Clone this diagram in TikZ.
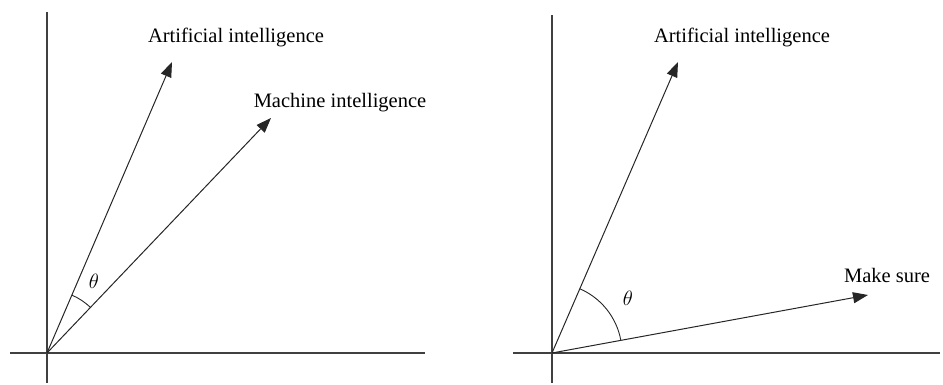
\documentclass[tikz,border=0pt]{standalone}
\usepackage{fontspec}
\setmainfont{Liberation Serif}
\usetikzlibrary{arrows.meta,angles}

\tikzset{
  axis/.style={black!75, line width=1.1pt},
  vec/.style={black!85, line width=1pt, -{Triangle[length=15pt,width=11pt]}},
  vlabel/.style={font=\fontsize{20.5}{24}\selectfont, inner sep=0pt},
}

\begin{document}
\begin{tikzpicture}[x=1pt, y=1pt]
  \useasboundingbox (0,0) rectangle (943,385);

  % 左图：坐标轴
  \coordinate (oa) at (47,32);
  \draw[axis] (47,2) -- (47,373);
  \draw[axis] (10,32) -- (425,32);

  % 左图：两个向量
  \coordinate (aia) at (172,323);
  \coordinate (mia) at (271,267);
  \draw[vec] (oa) -- (aia);
  \draw[vec] (oa) -- (mia);
  \node[vlabel] (ailabela) at (236,347) {Artificial intelligence};
  \node[vlabel] (milabel) at (340,282) {Machine intelligence};

  % 左图：夹角
  \path pic[draw, black!85, line width=0.9pt, angle radius=63pt] {angle=mia--oa--aia};
  \node[vlabel] (thetaa) at (94,104) {$\theta$};

  % 右图：坐标轴
  \coordinate (ob) at (552,32);
  \draw[axis] (552,2) -- (552,370);
  \draw[axis] (513,32) -- (940,32);

  % 右图：两个向量
  \coordinate (aib) at (678,323);
  \coordinate (msb) at (868,90);
  \draw[vec] (ob) -- (aib);
  \draw[vec] (ob) -- (msb);
  \node[vlabel] (ailabelb) at (742,347) {Artificial intelligence};
  \node[vlabel] (mslabel) at (887,110) {Make sure};

  % 右图：夹角
  \path pic[draw, black!85, line width=0.9pt, angle radius=70pt] {angle=msb--ob--aib};
  \node[vlabel] (thetab) at (628,87) {$\theta$};

\end{tikzpicture}
\end{document}
